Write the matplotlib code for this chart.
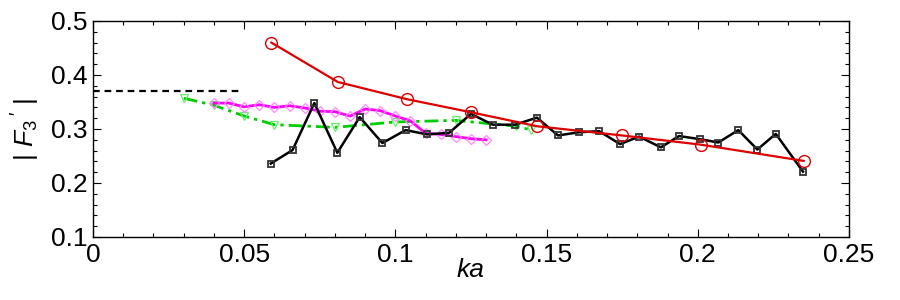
import matplotlib
matplotlib.use('Agg')
import matplotlib.pyplot as plt
from matplotlib.ticker import MultipleLocator

plt.rcParams['font.family'] = ['Liberation Sans', 'DejaVu Sans']
plt.rcParams['mathtext.fontset'] = 'custom'
plt.rcParams['mathtext.it'] = 'Liberation Sans:italic'
plt.rcParams['mathtext.rm'] = 'Liberation Sans'

# red circles
ka_red = [0.059, 0.081, 0.104, 0.125, 0.147, 0.175, 0.201, 0.235]
f_red = [0.460, 0.387, 0.355, 0.331, 0.305, 0.288, 0.271, 0.241]

# black squares
ka_blk = [0.0588, 0.0660, 0.0732, 0.0808, 0.0882, 0.0957, 0.1034, 0.1105, 0.1178,
          0.1250, 0.1322, 0.1396, 0.1468, 0.1538, 0.1607, 0.1674, 0.1743, 0.1806,
          0.1878, 0.1938, 0.2009, 0.2068, 0.2134, 0.2197, 0.2258, 0.2348]
f_blk = [0.236, 0.261, 0.348, 0.256, 0.322, 0.274, 0.298, 0.290, 0.293,
         0.328, 0.308, 0.308, 0.321, 0.288, 0.294, 0.296, 0.272, 0.286,
         0.266, 0.287, 0.281, 0.275, 0.298, 0.262, 0.291, 0.221]

# magenta diamonds
ka_mag = [0.040, 0.045, 0.050, 0.055, 0.060, 0.065, 0.070, 0.075, 0.080, 0.085,
          0.090, 0.095, 0.100, 0.105, 0.110, 0.115, 0.120, 0.125, 0.130]
f_mag = [0.348, 0.348, 0.341, 0.345, 0.340, 0.343, 0.339, 0.333, 0.332, 0.324,
         0.337, 0.334, 0.324, 0.315, 0.292, 0.290, 0.286, 0.282, 0.280]

# green triangles
ka_grn = [0.030, 0.040, 0.050, 0.060, 0.080, 0.100, 0.120, 0.140, 0.145]
f_grn = [0.357, 0.344, 0.324, 0.308, 0.303, 0.313, 0.316, 0.305, 0.298]

# dashed reference level
ka_ref = [0.0, 0.049]
f_ref = [0.37, 0.37]

fig = plt.figure(figsize=(9, 3), dpi=100)
ax = fig.add_axes((0.1033, 0.21, 0.84, 0.72))

ax.plot(ka_ref, f_ref, color='black', lw=1.6, ls=(0, (3, 2.2)))
ax.plot(ka_grn, f_grn, color='#00cc00', lw=2.0, ls=(0, (5, 1.8, 1.2, 1.8)),
        marker='v', ms=6, mfc='none', mec='#66ee66', mew=0.9)
ax.plot(ka_mag, f_mag, color='#ff00ff', lw=2.0,
        marker='D', ms=5.5, mfc='none', mec='#ff88ff', mew=0.9)
ax.plot(ka_blk, f_blk, color='black', lw=1.8,
        marker='s', ms=5, mfc='none', mec='#333333', mew=1.3)
ax.plot(ka_red, f_red, color='#dd0000', lw=1.6,
        marker='o', ms=8.5, mfc='none', mec='#dd0000', mew=1.0)

ax.set_xlim(0, 0.25)
ax.set_ylim(0.1, 0.5)
ax.xaxis.set_major_locator(MultipleLocator(0.05))
ax.xaxis.set_minor_locator(MultipleLocator(0.01))
ax.yaxis.set_major_locator(MultipleLocator(0.1))
ax.yaxis.set_minor_locator(MultipleLocator(0.02))
ax.set_xticklabels(['0', '0.05', '0.1', '0.15', '0.2', '0.25'])
ax.set_xticks([0, 0.05, 0.1, 0.15, 0.2, 0.25])
ax.set_xticklabels(['0', '0.05', '0.1', '0.15', '0.2', '0.25'])
ax.set_yticks([0.1, 0.2, 0.3, 0.4, 0.5])
ax.set_yticklabels(['0.1', '0.2', '0.3', '0.4', '0.5'])
ax.tick_params(which='both', direction='in', top=True, right=True, labelsize=19, width=0.8)
ax.tick_params(which='major', length=6, pad=4)
ax.tick_params(which='minor', length=3)
for s in ax.spines.values():
    s.set_linewidth(1.0)

ax.set_xlabel('ka', fontsize=19, style='italic', labelpad=-6)
ax.set_ylabel(r"$|\ F_3\,'\ |$", fontsize=19, labelpad=6)

fig.savefig('out.png', dpi=100)
